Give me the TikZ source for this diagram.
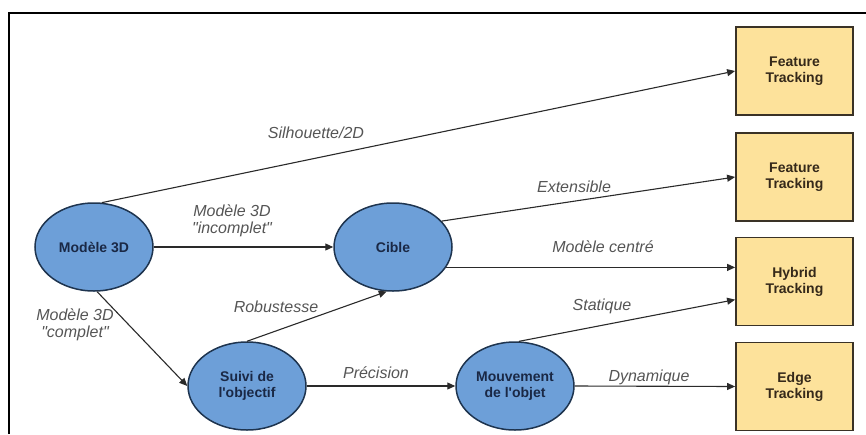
\documentclass[tikz,border=0pt]{standalone}
\usepackage{fontspec}
\setmainfont{Liberation Sans}
\usetikzlibrary{shapes.geometric,arrows.meta}

\definecolor{ellipsefill}{HTML}{6D9FD8}
\definecolor{ellipseline}{HTML}{1E344F}
\definecolor{ellipsetext}{HTML}{1A2845}
\definecolor{boxfill}{HTML}{FDE29B}
\definecolor{boxline}{HTML}{3A3226}
\definecolor{boxtext}{HTML}{35291A}
\definecolor{linecol}{HTML}{2A2A2A}
\definecolor{tagcol}{HTML}{555555}

\begin{document}
\begin{tikzpicture}[x=1pt,y=-1pt,
  proc/.style={ellipse, draw=ellipseline, line width=1.5pt, fill=ellipsefill,
    minimum width=118pt, minimum height=88pt, inner sep=0pt, align=center,
    font=\fontsize{14}{16}\selectfont\bfseries, text=ellipsetext},
  result/.style={rectangle, draw=boxline, line width=1.8pt, fill=boxfill,
    minimum width=117pt, minimum height=88pt, inner sep=0pt, align=center,
    font=\fontsize{14}{16}\selectfont\bfseries, text=boxtext},
  link/.style={draw=linecol, line width=1.1pt,
    -{Triangle[length=8pt,width=7pt]}},
  tag/.style={font=\fontsize{16}{17}\selectfont\itshape, text=tagcol,
    align=center, inner sep=0pt}]

\useasboundingbox (0,0) rectangle (866,434);

% frame along the top and left edges
\draw[line width=2.8pt, black] (9,434) -- (9,13) -- (866,13);

% process ellipses
\node[proc] (m3d)   at (94,247)  {Modèle 3D};
\node[proc] (cible) at (393,247) {Cible};
\node[proc] (suivi) at (247,386) {Suivi de\\l\textquotesingle objectif};
\node[proc] (mouv)  at (515,386) {Mouvement\\de l\textquotesingle objet};

% tracking method boxes
\node[result] (ft1) at (794.5,71)    {Feature\\Tracking};
\node[result] (ft2) at (794.5,177)   {Feature\\Tracking};
\node[result] (hyb) at (794.5,281.5) {Hybrid\\Tracking};
\node[result] (edg) at (794.5,386.5) {Edge\\Tracking};

% connectors
\draw[link] (m3d.80) -- (ft1.west);
\draw[link] (m3d.east) -- (cible.west);
\draw[link] (m3d.-86) -- (suivi.west);
\draw[link] (suivi.north) -- (cible.-98);
\draw[link] (suivi.east) -- (mouv.west);
\draw[link] (cible.28) -- (ft2.west);
\draw[link] (cible.-21) -- (cible.-21 -| hyb.west);
\draw[link] (mouv.85) -- (hyb.197);
\draw[link] (mouv.east) -- (edg.west);

% connector labels
\node[tag] (lsil) at (316,133) {Silhouette/2D};
\node[tag] (linc) at (232,221) {Modèle 3D\\\textquotedbl incomplet\textquotedbl};
\node[tag] (lcom) at (75,325)  {Modèle 3D\\\textquotedbl complet\textquotedbl};
\node[tag] (lrob) at (276,307) {Robustesse};
\node[tag] (lpre) at (376,373) {Précision};
\node[tag] (lext) at (574,187) {Extensible};
\node[tag] (lcen) at (603,247) {Modèle centré};
\node[tag] (lsta) at (602,306) {Statique};
\node[tag] (ldyn) at (649,377) {Dynamique};
\end{tikzpicture}
\end{document}
